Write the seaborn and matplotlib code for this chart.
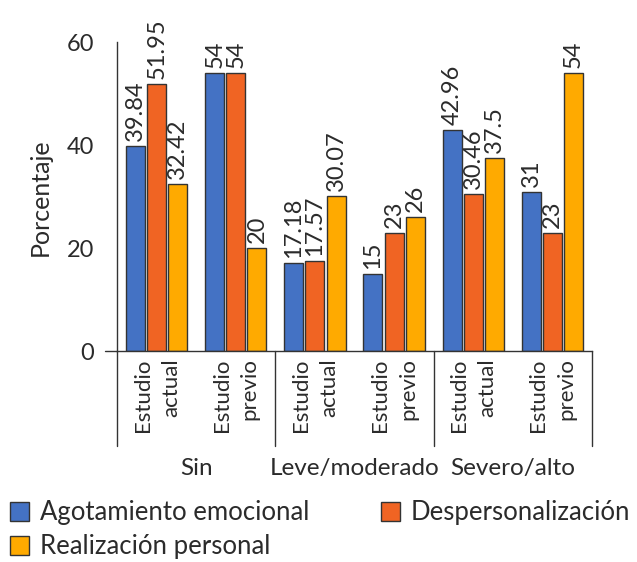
import pandas as pd
import seaborn as sns
import matplotlib.pyplot as plt
from matplotlib.transforms import blended_transform_factory

categorias = ['Estudio\nactual', 'Estudio\nprevio'] * 3
grupos = ['Sin', 'Leve/moderado', 'Severo/alto']
series = ['Agotamiento emocional', 'Despersonalización', 'Realización personal']
agotamiento = [39.84, 54, 17.18, 15, 42.96, 31]
despersonalizacion = [51.95, 54, 17.57, 23, 30.46, 23]
realizacion = [32.42, 20, 30.07, 26, 37.5, 54]
colores = ['#4472C4', '#F06423', '#FFAA00']

# long format table for seaborn
filas = []
for i, cat in enumerate(categorias):
    for nombre, vals in zip(series, [agotamiento, despersonalizacion, realizacion]):
        filas.append({'pos': i, 'serie': nombre, 'valor': vals[i]})
df = pd.DataFrame(filas)

sns.set_style('white')
plt.rcParams['font.family'] = ['Lato', 'DejaVu Sans']
plt.rcParams['font.size'] = 16
txt = '#2b2b2b'

fig = plt.figure(figsize=(6.37, 5.62), dpi=100)
ax = fig.add_axes([0.184, 0.375, 0.745, 0.55])

sns.barplot(data=df, x='pos', y='valor', hue='serie', hue_order=series,
            palette=colores, saturation=1, width=0.8, gap=0.1,
            edgecolor='#333333', linewidth=1, ax=ax, legend=True)

for cont in ax.containers:
    ax.bar_label(cont, labels=[f'{v:g}' for v in cont.datavalues],
                 rotation=90, padding=3.5, fontsize=17, color=txt)

ax.set_xlim(-0.5, 5.5)
ax.set_ylim(0, 60)
ax.set_yticks([0, 20, 40, 60])
ax.set_ylabel('Porcentaje', fontsize=18, color=txt, labelpad=11)
ax.set_xlabel('')
ax.tick_params(axis='y', length=8.6, width=1, color='#333333', pad=8, labelsize=17, labelcolor=txt)

ax.set_xticks(range(6))
ax.set_xticklabels(categorias, rotation=90, ha='center', va='top',
                   multialignment='right', fontsize=16, color=txt, linespacing=1.5)
ax.tick_params(axis='x', length=0, pad=5)
ax.set_xticks([0.5, 2.5, 4.5], minor=True)
ax.tick_params(axis='x', which='minor', length=7, width=1, color='#333333', direction='out')

sns.despine(ax=ax)
for s in ['left', 'bottom']:
    ax.spines[s].set_color('#333333')
    ax.spines[s].set_linewidth(1)

trans = blended_transform_factory(ax.transData, ax.transAxes)
for xs in [-0.5, 1.5, 3.5, 5.5]:
    ax.plot([xs, xs], [0, -0.305], transform=trans, color='#333333', lw=1, clip_on=False)
for j, g in enumerate(grupos):
    ax.text(2 * j + 0.5, -0.38, g, transform=trans, ha='center', va='center',
            fontsize=17.5, color=txt)
ax.plot([-0.65, -0.5], [0, 0], transform=trans, color='#333333', lw=1, clip_on=False)

handles, labels = ax.get_legend_handles_labels()
orden = [0, 2, 1]
ax.legend([handles[k] for k in orden], [labels[k] for k in orden], ncol=2,
          loc='upper left', bbox_to_anchor=(0.016, 0.11), bbox_transform=fig.transFigure,
          frameon=False, fontsize=18.5, handlelength=0.75, handleheight=0.75,
          handletextpad=0.4, columnspacing=2.8, labelspacing=0.36, borderaxespad=0,
          borderpad=0.0, labelcolor=txt)

fig.savefig('out.png', dpi=100)
